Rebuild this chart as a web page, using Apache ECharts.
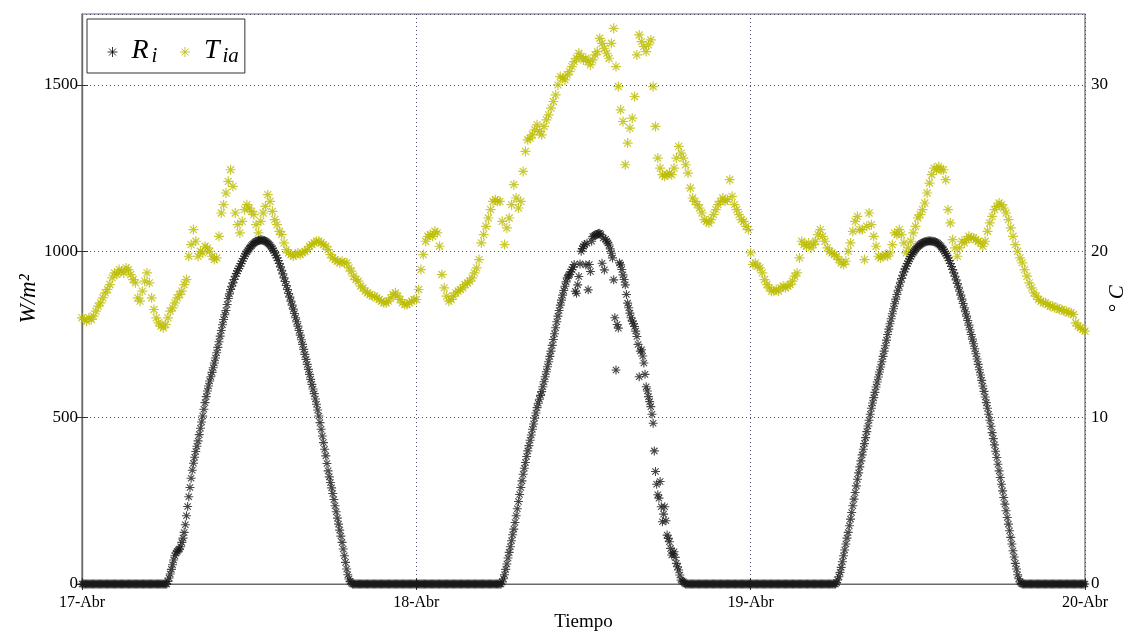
<!DOCTYPE html>
<html>
<head>
<meta charset="utf-8">
<script src="https://cdn.jsdelivr.net/npm/echarts@6/dist/echarts.min.js"></script>
<style>
html,body{margin:0;padding:0;background:#fff;}
#chart{width:1130px;height:637px;}
</style>
</head>
<body>
<div id="chart"></div>
<script>
// sample steps (hours): irradiance every 5 min, temperature every 10 min, 17-Abr 00:00 to 20-Abr 00:00
const STEP_RI = 1 / 12;
const STEP_TIA = 1 / 6;
const xTickLabels = ['17-Abr', '18-Abr', '19-Abr', '20-Abr'];

// Irradiance R_i (W/m2), one row per hour (12 samples)
const ri = [
// 17-Abr
0,0,0,0,0,0,0,0,0,0,0,0, 0,0,0,0,0,0,0,0,0,0,0,0, 0,0,0,0,0,0,0,0,0,0,0,0,
0,0,0,0,0,0,0,0,0,0,0,0, 0,0,0,0,0,0,0,0,0,0,0,0, 0,0,0,0,0,0,0,0,0,0,0,0,
0,0,8,18,30,44,58,72,85,93,98,102,
105,112,125,138,155,178,205,233,262,290,318,342,
363,381,398,414,430,449,468,487,505,525,545,563,
580,595,610,623,636,650,664,679,695,711,728,745,
762,779,795,809,822,840,858,872,885,895,905,915,
925,933,941,948,955,963,970,978,985,992,998,1003,
1008,1013,1017,1021,1024,1027,1029,1031,1032,1033,1034,1034,
1033,1032,1030,1028,1025,1022,1018,1013,1008,1002,995,988,
980,972,963,953,943,932,920,909,897,885,873,862,
850,838,826,813,800,788,775,762,748,734,720,705,
690,675,660,645,630,615,600,586,572,556,540,523,
505,485,465,445,425,405,385,362,340,322,305,289,
272,254,235,217,198,180,162,144,125,105,85,65,
45,28,15,8,3,0,0,0,0,0,0,0,
0,0,0,0,0,0,0,0,0,0,0,0, 0,0,0,0,0,0,0,0,0,0,0,0, 0,0,0,0,0,0,0,0,0,0,0,0,
0,0,0,0,0,0,0,0,0,0,0,0,
// 18-Abr
0,0,0,0,0,0,0,0,0,0,0,0, 0,0,0,0,0,0,0,0,0,0,0,0, 0,0,0,0,0,0,0,0,0,0,0,0,
0,0,0,0,0,0,0,0,0,0,0,0, 0,0,0,0,0,0,0,0,0,0,0,0, 0,0,0,0,0,0,0,0,0,0,0,0,
0,0,6,16,28,44,60,78,95,112,130,148,
165,185,205,226,248,269,290,310,330,348,365,383,
400,416,432,448,465,481,498,514,530,543,555,567,
578,593,608,623,638,653,668,684,700,717,735,752,
770,788,805,822,838,853,868,882,895,908,920,926,
930,938,945,952,960,880,874,899,924,962,1000,1008,
1015,1020,959,1024,884,960,939,1030,1044,1046,1048,1050,
1052,1053,1054,1050,964,1040,944,1036,1030,1025,1019,1007,
994,980,914,800,643,780,769,965,959,945,929,915,
899,870,844,830,814,800,790,782,774,760,744,720,
623,700,704,685,664,630,593,580,563,548,533,510,
483,400,338,300,268,258,308,232,187,210,232,190,
147,137,127,107,87,92,97,80,62,52,42,27,
12,9,7,3,0,0,0,0,0,0,0,0,
0,0,0,0,0,0,0,0,0,0,0,0, 0,0,0,0,0,0,0,0,0,0,0,0, 0,0,0,0,0,0,0,0,0,0,0,0,
0,0,0,0,0,0,0,0,0,0,0,0,
// 19-Abr
0,0,0,0,0,0,0,0,0,0,0,0, 0,0,0,0,0,0,0,0,0,0,0,0, 0,0,0,0,0,0,0,0,0,0,0,0,
0,0,0,0,0,0,0,0,0,0,0,0, 0,0,0,0,0,0,0,0,0,0,0,0, 0,0,0,0,0,0,0,0,0,0,0,0,
0,0,4,12,22,35,50,67,85,102,120,138,
155,175,195,215,235,255,275,295,315,334,352,370,
388,405,422,440,458,475,492,510,528,544,560,576,
592,607,622,637,652,668,684,700,716,733,750,766,
782,797,812,827,842,856,870,883,895,907,918,928,
938,947,955,963,970,977,984,990,996,1001,1006,1010,
1014,1017,1020,1023,1025,1027,1028,1029,1030,1031,1031,1031,
1030,1030,1029,1028,1026,1024,1021,1018,1014,1010,1005,999,
993,987,980,972,963,954,945,935,925,914,903,892,
880,868,856,843,830,818,805,792,778,764,750,736,
722,707,692,676,660,644,628,612,595,579,562,545,
528,510,492,474,455,437,418,399,380,360,340,320,
300,280,260,240,220,200,180,160,140,120,100,81,
62,45,28,16,6,2,0,0,0,0,0,0,
0,0,0,0,0,0,0,0,0,0,0,0, 0,0,0,0,0,0,0,0,0,0,0,0, 0,0,0,0,0,0,0,0,0,0,0,0,
0,0,0,0,0,0,0,0,0,0,0,0,
// 20-Abr 00:00
0
];

// Air temperature T_ia (°C), one row per hour (6 samples)
const tia = [
// 17-Abr
16.0,15.9,15.8,16.0,15.9,16.1,
16.4,16.7,16.9,17.2,17.5,17.7,
18.0,18.4,18.7,18.6,18.9,18.8,
18.7,19.0,18.9,18.6,18.3,18.1,
17.2,17.0,17.6,18.2,18.7,18.1,
17.2,16.5,16.0,15.7,15.5,15.4,
15.6,16.0,16.4,16.6,16.9,17.2,
17.4,17.6,18.0,18.3,19.7,20.4,
21.3,20.6,19.7,20.0,19.9,20.3,
20.2,20.0,19.7,19.5,19.6,20.9,
22.3,22.8,23.5,24.2,24.9,23.9,
22.3,21.6,21.1,21.8,22.5,22.8,
22.6,22.4,22.2,21.6,21.1,21.8,
22.3,22.7,23.4,23.0,22.4,21.9,
21.6,21.2,21.0,20.5,20.1,19.9,
19.8,19.7,19.8,19.9,19.8,19.9,
20.0,20.1,20.3,20.4,20.5,20.6,
20.6,20.5,20.4,20.3,20.1,19.8,
19.6,19.5,19.4,19.3,19.4,19.3,
19.3,19.0,18.8,18.5,18.3,18.2,
17.9,17.8,17.6,17.5,17.4,17.3,
17.3,17.2,17.1,17.0,16.9,16.9,
17.0,17.2,17.4,17.5,17.3,17.1,
16.9,16.8,16.8,16.9,17.0,17.1,
// 18-Abr
17.1,17.7,18.9,19.8,20.6,20.9,
21.0,20.9,21.2,21.1,20.3,18.6,
17.8,17.3,17.0,17.1,17.3,17.5,
17.6,17.7,17.8,18.0,18.1,18.2,
18.4,18.7,19.0,19.5,20.5,21.0,
21.5,22.0,22.5,23.0,23.1,23.0,
23.0,21.8,20.4,21.4,22.0,22.8,
24.0,23.2,22.6,23.0,24.8,26.0,
26.7,26.8,27.0,27.3,27.6,27.2,
27.0,27.5,27.9,28.2,28.6,29.0,
29.4,30.0,30.5,30.4,30.3,30.6,
30.8,31.1,31.4,31.6,31.9,31.7,
31.5,31.6,31.4,31.2,31.5,31.8,
32.0,32.8,32.5,32.2,31.9,31.6,
32.5,33.4,31.1,29.9,28.5,27.8,
25.2,26.5,27.4,28.0,29.3,31.8,
33.0,32.6,32.3,32.0,32.4,32.7,
29.9,27.5,25.6,25.0,24.6,24.5,
24.6,24.7,24.6,25.0,25.6,26.3,
25.9,25.6,25.2,24.7,23.8,23.2,
23.0,22.8,22.6,22.3,21.9,21.8,
21.7,21.9,22.2,22.5,22.8,23.0,
23.2,23.0,23.1,24.3,23.3,22.8,
22.5,22.2,21.9,21.8,21.5,21.3,
// 19-Abr
19.9,19.2,19.3,19.1,19.0,18.7,
18.3,18.0,17.8,17.6,17.6,17.7,
17.6,17.8,17.9,17.8,17.9,18.0,
18.2,18.5,18.7,19.6,20.6,20.4,
20.3,20.5,20.2,20.4,20.6,21.0,
21.3,20.9,20.6,20.2,20.0,19.9,
19.8,19.7,19.5,19.3,19.2,19.4,
20.0,20.5,21.2,21.8,22.1,21.3,
21.3,19.5,21.5,22.3,21.6,20.9,
20.3,19.7,19.6,19.7,19.8,19.7,
19.9,20.4,21.1,21.0,21.3,21.0,
20.5,19.9,20.2,20.6,21.1,21.5,
22.0,22.2,22.5,22.9,23.5,24.1,
24.6,25.0,24.9,25.1,24.9,24.9,
24.3,22.5,21.7,20.7,20.2,19.7,
20.2,20.6,20.5,20.7,20.9,20.8,
20.8,20.7,20.6,20.5,20.3,20.6,
21.2,21.7,22.1,22.5,22.7,22.9,
22.8,22.6,22.3,21.9,21.4,20.9,
20.4,20.0,19.6,19.3,18.9,18.5,
18.1,17.8,17.5,17.3,17.1,17.0,
16.9,16.9,16.8,16.7,16.7,16.6,
16.6,16.5,16.5,16.4,16.4,16.3,
16.3,16.2,15.7,15.5,15.4,15.3,
// 20-Abr 00:00
15.2
];

const STAR = 'path://M5,0L5,10M0,5L10,5M1.5,1.5L8.5,8.5M1.5,8.5L8.5,1.5';
const RI_COLOR = '#000000';
const TIA_COLOR = '#bcbc00';
const SERIF = '"Liberation Serif", "DejaVu Serif", serif';

const riData = ri.map((v, i) => [i * STEP_RI, v]);
const tiaData = tia.map((v, i) => [i * STEP_TIA, v]);

const chart = echarts.init(document.getElementById('chart'), null, {renderer: 'canvas'});

const gridLine = {show: true, lineStyle: {color: '#4a4a6a', type: [1, 3], width: 1}};
const frame = {show: true, lineStyle: {color: '#6a6a6a', width: 1.2}};
const labelFont = {fontFamily: SERIF, fontSize: 17, color: '#000'};
const tick = {show: true, inside: true, length: 6, lineStyle: {color: '#333'}};

chart.setOption({
  animation: false,
  backgroundColor: '#ffffff',
  grid: {left: 82, right: 45, top: 14, bottom: 53, outerBoundsMode: 'none', containLabel: false,
         show: true, borderColor: '#6a6a6a', borderWidth: 1.2},
  legend: {
    left: 87, top: 19,
    orient: 'horizontal',
    padding: [5, 6, 6, 20],
    itemGap: 22,
    itemWidth: 10, itemHeight: 10,
    borderColor: '#333', borderWidth: 1, backgroundColor: '#fff',
    data: [
      {name: 'Ri', icon: STAR, itemStyle: {color: RI_COLOR, borderColor: RI_COLOR, borderWidth: 1}},
      {name: 'Tia', icon: STAR, itemStyle: {color: TIA_COLOR, borderColor: TIA_COLOR, borderWidth: 1}}
    ],
    formatter: function (name) {
      return name === 'Ri' ? '{m|R}{s|i}' : '{m|T}{s|ia}';
    },
    textStyle: {
      rich: {
        m: {fontFamily: SERIF, fontStyle: 'italic', fontSize: 28, color: '#000', lineHeight: 30, padding: [0, 0, 0, 9], verticalAlign: 'top'},
        s: {fontFamily: SERIF, fontStyle: 'italic', fontSize: 21, color: '#000', lineHeight: 20, padding: [22, 0, 0, 3], verticalAlign: 'bottom'}
      }
    }
  },
  xAxis: [{
    type: 'value', min: 0, max: 72, interval: 24,
    axisLine: frame, axisTick: tick, splitLine: gridLine,
    axisLabel: Object.assign({margin: 11, formatter: v => (v % 24 === 0 ? xTickLabels[Math.round(v / 24)] : '')}, labelFont, {fontSize: 16}),
    name: 'Tiempo', nameLocation: 'middle', nameGap: 29, nameMoveOverlap: false,
    nameTextStyle: {fontFamily: SERIF, fontSize: 19, color: '#000'}
  }, {
    type: 'value', min: 0, max: 72, interval: 24, position: 'top',
    axisLine: frame, axisTick: tick,
    splitLine: {show: false}, axisLabel: {show: false}
  }],
  yAxis: [{
    type: 'value', min: 0, max: 1713, interval: 500, position: 'left',
    axisLine: frame, axisTick: tick, splitLine: gridLine,
    axisLabel: Object.assign({margin: 4, showMaxLabel: false, formatter: v => (v % 500 === 0 ? String(v) : '')}, labelFont),
    name: 'W/m²', nameLocation: 'middle', nameGap: 42, nameRotate: 90, nameMoveOverlap: false,
    nameTextStyle: {fontFamily: SERIF, fontStyle: 'italic', fontSize: 23, color: '#000'}
  }, {
    type: 'value', min: 0, max: 34.26, interval: 10, position: 'right',
    axisLine: frame, axisTick: tick,
    splitLine: {show: false},
    axisLabel: Object.assign({margin: 6, showMaxLabel: false, formatter: v => (v % 10 === 0 ? String(v) : '')}, labelFont),
    name: '° C', nameLocation: 'middle', nameGap: 22, nameRotate: 90, nameMoveOverlap: false,
    nameTextStyle: {fontFamily: SERIF, fontStyle: 'italic', fontSize: 21, color: '#000'}
  }],
  series: [{
    name: 'Tia', type: 'scatter', xAxisIndex: 0, yAxisIndex: 1,
    data: tiaData, symbol: STAR, symbolSize: 10,
    itemStyle: {color: TIA_COLOR, borderColor: TIA_COLOR, borderWidth: 1.2}, z: 2
  }, {
    name: 'Ri', type: 'scatter', xAxisIndex: 0, yAxisIndex: 0,
    data: riData, symbol: STAR, symbolSize: 9,
    itemStyle: {color: RI_COLOR, borderColor: '#1a1a1a', borderWidth: 1.1}, z: 3
  }]
});
</script>
</body>
</html>
